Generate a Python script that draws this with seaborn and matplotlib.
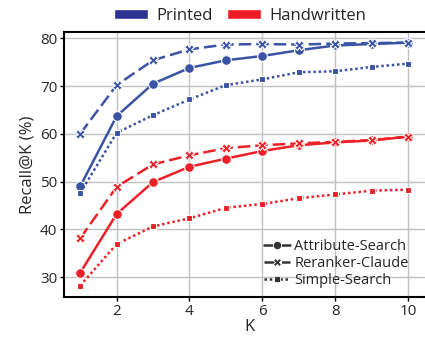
import numpy as np
import pandas as pd
import seaborn as sns
import matplotlib.pyplot as plt
from matplotlib.patches import Patch
from matplotlib.lines import Line2D

k_values = list(range(1, 11))
methods = ["Attribute-Search", "Reranker-Claude", "Simple-Search"]
types = ["Printed", "Handwritten"]

printed_attribute = [49.0, 63.7, 70.5, 73.8, 75.4, 76.3, 77.5, 78.5, 78.8, 79.1]
printed_reranker = [60.0, 70.2, 75.4, 77.7, 78.7, 78.8, 78.7, 78.9, 79.0, 79.1]
printed_simple = [47.6, 60.2, 63.9, 67.2, 70.2, 71.4, 72.9, 73.1, 74.0, 74.7]
hand_attribute = [30.9, 43.2, 49.9, 53.1, 54.8, 56.4, 57.6, 58.2, 58.6, 59.4]
hand_reranker = [38.1, 48.9, 53.6, 55.5, 57.0, 57.6, 58.0, 58.3, 58.7, 59.4]
hand_simple = [28.2, 36.9, 40.6, 42.3, 44.5, 45.3, 46.5, 47.3, 48.1, 48.3]

series = {
    ("Printed", "Attribute-Search"): printed_attribute,
    ("Printed", "Reranker-Claude"): printed_reranker,
    ("Printed", "Simple-Search"): printed_simple,
    ("Handwritten", "Attribute-Search"): hand_attribute,
    ("Handwritten", "Reranker-Claude"): hand_reranker,
    ("Handwritten", "Simple-Search"): hand_simple,
}

rows = []
for (typ, method), vals in series.items():
    for k, v in zip(k_values, vals):
        rows.append({"K": k, "Recall": v, "Type": typ, "Method": method})
df = pd.DataFrame(rows)

line_colors = {"Printed": "#3a53a4", "Handwritten": "#ec2128"}
patch_colors = {"Printed": "#2e3192", "Handwritten": "#ed1c24"}
markers = {"Attribute-Search": "o", "Reranker-Claude": "X", "Simple-Search": "s"}
dashes = {"Attribute-Search": None, "Reranker-Claude": (5, 2), "Simple-Search": (1, 1.1)}
msizes = {"Attribute-Search": 7, "Reranker-Claude": 7, "Simple-Search": 5}

sns.set_theme(style="whitegrid")
plt.rcParams["font.family"] = ["Open Sans", "DejaVu Sans"]

fig = plt.figure(figsize=(4.25, 3.38), dpi=100)
ax = fig.add_axes([0.151, 0.121, 0.87, 0.784])

for method in methods:
    n_before = len(ax.get_lines())
    sub = df[df["Method"] == method]
    sns.lineplot(
        data=sub, x="K", y="Recall", hue="Type", palette=line_colors,
        marker=markers[method], markersize=msizes[method],
        markeredgecolor="white", markeredgewidth=0.8,
        linewidth=1.8, legend=False, ax=ax,
    )
    if dashes[method] is not None:
        for line in ax.get_lines()[n_before:]:
            line.set_dashes(dashes[method])

ax.set_xlim(0.56, 10.71)
ax.set_ylim(25.8, 81.3)
ax.set_xticks([2, 4, 6, 8, 10])
ax.set_yticks([30, 40, 50, 60, 70, 80])
ax.grid(True, color="#c0c0c0", linewidth=1.0)
for side in ["left", "top", "bottom", "right"]:
    ax.spines[side].set_color("black")
    ax.spines[side].set_linewidth(1.5)
ax.tick_params(axis="both", labelsize=11, length=3, width=1, color="black",
               direction="out", bottom=True, left=True, pad=2)
ax.set_xlabel("K", fontsize=12, labelpad=0)
ax.set_ylabel("Recall@K (%)", fontsize=12, labelpad=3)

type_handles = [Patch(facecolor=patch_colors[t], label=t) for t in types]
fig.legend(handles=type_handles, loc="upper center", bbox_to_anchor=(0.565, 1.02),
           ncol=2, frameon=False, fontsize=12, handlelength=2.0, handleheight=0.55,
           columnspacing=0.9, handletextpad=0.5)

method_handles = []
for method in methods:
    ls = "-" if dashes[method] is None else (0, dashes[method])
    method_handles.append(Line2D([0], [0], color="#333333", linewidth=1.8, linestyle=ls,
                                 marker=markers[method], markersize=msizes[method] - 1,
                                 markeredgecolor="white", markeredgewidth=0.6,
                                 label=method))
leg = ax.legend(handles=method_handles, loc="lower right", frameon=False, fontsize=10.5,
                handlelength=1.8, handletextpad=0.3, labelspacing=0.15,
                borderaxespad=0.2, bbox_to_anchor=(0.955, 0.0))

fig.savefig("out.png", dpi=100)
